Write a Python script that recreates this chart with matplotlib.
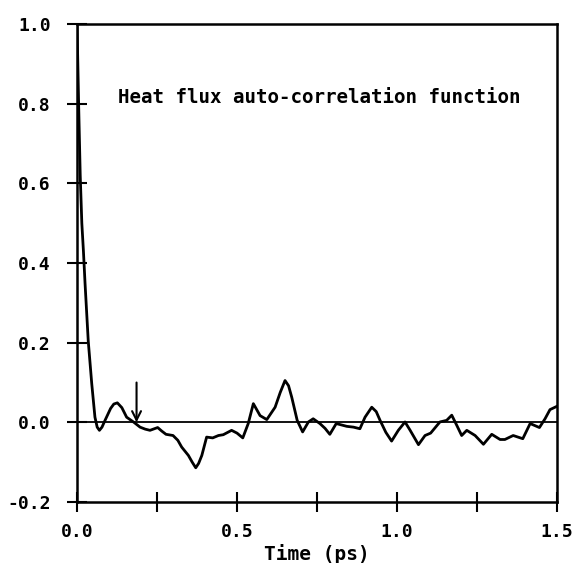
import numpy as np
import matplotlib.pyplot as plt

# values (time in ps, normalised HFACF)
time_ps = [0.0, 0.005, 0.01, 0.015, 0.02, 0.025, 0.035, 0.046, 0.056, 0.063, 0.07,
           0.078, 0.0875, 0.105, 0.115, 0.126, 0.14, 0.155, 0.178, 0.197, 0.213, 0.228, 0.252,
           0.265, 0.278, 0.30, 0.315, 0.327, 0.348, 0.36, 0.371, 0.38, 0.39,
           0.405, 0.424, 0.442, 0.457, 0.483, 0.50, 0.518, 0.535, 0.551, 0.572,
           0.593, 0.619, 0.635, 0.65, 0.661, 0.671, 0.688, 0.705, 0.723, 0.738, 0.759,
           0.775, 0.79, 0.81, 0.843, 0.864, 0.884, 0.9, 0.921, 0.935, 0.947, 0.965,
           0.983, 1.004, 1.025, 1.041, 1.067, 1.0875, 1.105, 1.134, 1.155, 1.171,
           1.187, 1.202, 1.218, 1.244, 1.27, 1.296, 1.322, 1.337, 1.363, 1.393,
           1.416, 1.445, 1.4625, 1.478, 1.499]
hfacf = [1.0, 0.80, 0.62, 0.50, 0.43, 0.35, 0.205, 0.097, 0.013, -0.012, -0.02,
         -0.012, 0.005, 0.035, 0.046, 0.049, 0.037, 0.013, 0.0, -0.012, -0.017, -0.02, -0.013,
         -0.022, -0.03, -0.033, -0.045, -0.062, -0.083, -0.100, -0.114, -0.103, -0.083,
         -0.037, -0.039, -0.033, -0.031, -0.02, -0.027, -0.039, -0.003, 0.047, 0.017,
         0.007, 0.038, 0.075, 0.105, 0.092, 0.063, 0.005, -0.024, 0.001, 0.009, -0.003,
         -0.015, -0.03, -0.003, -0.01, -0.012, -0.016, 0.013, 0.038, 0.027, 0.005, -0.025,
         -0.047, -0.02, 0.001, -0.02, -0.056, -0.033, -0.027, 0.001, 0.005, 0.018,
         -0.008, -0.033, -0.02, -0.033, -0.055, -0.03, -0.043, -0.043, -0.033, -0.041,
         -0.003, -0.013, 0.009, 0.032, 0.04]
arrow_t = 0.186

x_ticks = [0.0, 0.25, 0.5, 0.75, 1.0, 1.25, 1.5]
x_labels = ["0.0", "", "0.5", "", "1.0", "", "1.5"]
y_ticks = [-0.2, 0.0, 0.2, 0.4, 0.6, 0.8, 1.0]

plt.rcParams['font.family'] = 'DejaVu Sans Mono'
plt.rcParams['font.weight'] = 'bold'

fig = plt.figure(figsize=(5.8, 5.63), dpi=100)
ax = fig.add_axes([0.1328, 0.1083, 0.8276, 0.849])

ax.axhline(0.0, color='black', lw=1.3)
ax.plot(time_ps, hfacf, color='black', lw=2.0, solid_joinstyle='round')
ax.annotate('', xy=(arrow_t, 0.0), xytext=(arrow_t, 0.10),
            arrowprops=dict(arrowstyle='->', color='black', lw=1.5,
                            mutation_scale=16, shrinkA=0, shrinkB=0))

ax.text(0.128, 0.815, 'Heat flux auto-correlation function',
        fontsize=13.8, va='center', ha='left')

ax.set_xlim(0, 1.5)
ax.set_ylim(-0.2, 1.0)
ax.set_xticks(x_ticks)
ax.set_xticklabels(x_labels)
ax.set_yticks(y_ticks)
ax.set_yticklabels([f"{v:.1f}" for v in y_ticks])
ax.tick_params(direction='inout', length=14, width=1.5, labelsize=13)
ax.tick_params(axis='y', pad=12)
ax.tick_params(axis='x', pad=8)
ax.set_xlabel('Time (ps)', fontsize=14, fontweight='bold', labelpad=2)

for s in ax.spines.values():
    s.set_linewidth(1.8)

fig.savefig('out.png', dpi=100)
